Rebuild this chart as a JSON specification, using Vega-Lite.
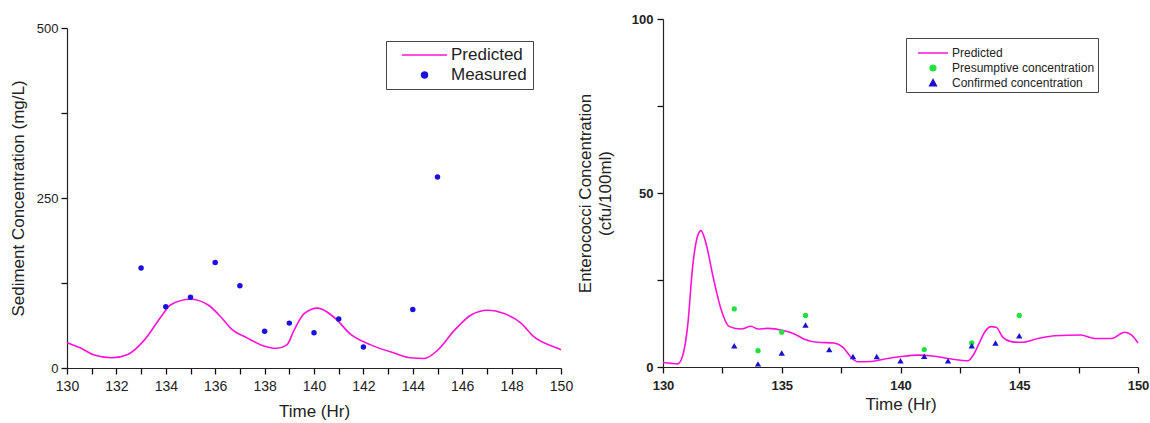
{
  "$schema": "https://vega.github.io/schema/vega-lite/v6.json",
  "background": "white",
  "padding": {"left": 9, "top": 13, "right": 0, "bottom": 5},
  "spacing": 3,
  "config": {
    "font": "Liberation Sans",
    "view": {"stroke": null},
    "axis": {"grid": false, "ticks": true, "domainColor": "#222", "tickColor": "#111", "labelColor": "#222", "titleColor": "#222", "titleFontWeight": "normal", "domainWidth": 1.2, "tickWidth": 1.3, "labelFlush": false, "labelOverlap": false, "tickSize": 6}
  },
  "resolve": {"scale": {"color": "independent"}, "legend": {"color": "independent"}},
  "datasets": {
    "sedPred": [
      {"t": 130.0, "v": 37, "series": "Predicted"}, {"t": 130.16, "v": 35, "series": "Predicted"}, {"t": 130.57, "v": 29, "series": "Predicted"},
      {"t": 131.1, "v": 19, "series": "Predicted"}, {"t": 131.8, "v": 15, "series": "Predicted"}, {"t": 132.46, "v": 20, "series": "Predicted"},
      {"t": 133.13, "v": 41, "series": "Predicted"}, {"t": 133.8, "v": 75, "series": "Predicted"}, {"t": 134.2, "v": 93, "series": "Predicted"},
      {"t": 135.0, "v": 101, "series": "Predicted"}, {"t": 135.7, "v": 93, "series": "Predicted"}, {"t": 136.23, "v": 75, "series": "Predicted"},
      {"t": 136.64, "v": 58, "series": "Predicted"}, {"t": 137.3, "v": 44, "series": "Predicted"}, {"t": 137.85, "v": 34, "series": "Predicted"},
      {"t": 138.5, "v": 29, "series": "Predicted"}, {"t": 138.9, "v": 34, "series": "Predicted"}, {"t": 139.2, "v": 56, "series": "Predicted"},
      {"t": 139.6, "v": 80, "series": "Predicted"}, {"t": 140.15, "v": 88, "series": "Predicted"}, {"t": 140.8, "v": 75, "series": "Predicted"},
      {"t": 141.5, "v": 49, "series": "Predicted"}, {"t": 142.3, "v": 34, "series": "Predicted"}, {"t": 143.25, "v": 22, "series": "Predicted"},
      {"t": 143.9, "v": 15, "series": "Predicted"}, {"t": 144.47, "v": 14, "series": "Predicted"}, {"t": 145.0, "v": 26, "series": "Predicted"},
      {"t": 145.7, "v": 56, "series": "Predicted"}, {"t": 146.36, "v": 78, "series": "Predicted"}, {"t": 147.03, "v": 85, "series": "Predicted"},
      {"t": 147.7, "v": 80, "series": "Predicted"}, {"t": 148.38, "v": 66, "series": "Predicted"}, {"t": 148.9, "v": 46, "series": "Predicted"},
      {"t": 149.87, "v": 29, "series": "Predicted"}, {"t": 150.0, "v": 27, "series": "Predicted"}
    ],
    "sedMeas": [
      {"t": 133, "v": 147, "series": "Measured"}, {"t": 134, "v": 90, "series": "Measured"}, {"t": 135, "v": 104, "series": "Measured"},
      {"t": 136, "v": 155, "series": "Measured"}, {"t": 137, "v": 121, "series": "Measured"}, {"t": 138, "v": 54, "series": "Measured"},
      {"t": 139, "v": 66, "series": "Measured"}, {"t": 140, "v": 52, "series": "Measured"}, {"t": 141, "v": 72, "series": "Measured"},
      {"t": 142, "v": 31, "series": "Measured"}, {"t": 144, "v": 86, "series": "Measured"}, {"t": 145, "v": 281, "series": "Measured"}
    ],
    "entPred": [
      {"t": 130.0, "v": 1.3, "series": "Predicted"}, {"t": 130.34, "v": 1.05, "series": "Predicted"}, {"t": 130.62, "v": 0.9, "series": "Predicted"},
      {"t": 130.83, "v": 3.3, "series": "Predicted"}, {"t": 131.04, "v": 11.9, "series": "Predicted"}, {"t": 131.25, "v": 29, "series": "Predicted"},
      {"t": 131.46, "v": 37.7, "series": "Predicted"}, {"t": 131.6, "v": 39.2, "series": "Predicted"}, {"t": 131.8, "v": 35.8, "series": "Predicted"},
      {"t": 132.1, "v": 26.2, "series": "Predicted"}, {"t": 132.44, "v": 16.7, "series": "Predicted"}, {"t": 132.8, "v": 11.6, "series": "Predicted"},
      {"t": 133.29, "v": 10.9, "series": "Predicted"}, {"t": 133.7, "v": 11.7, "series": "Predicted"}, {"t": 134.0, "v": 10.9, "series": "Predicted"},
      {"t": 134.4, "v": 11.1, "series": "Predicted"}, {"t": 135.1, "v": 10.4, "series": "Predicted"}, {"t": 135.53, "v": 9.5, "series": "Predicted"},
      {"t": 135.95, "v": 8.0, "series": "Predicted"}, {"t": 136.5, "v": 7.1, "series": "Predicted"}, {"t": 137.2, "v": 6.9, "series": "Predicted"},
      {"t": 137.57, "v": 5.7, "series": "Predicted"}, {"t": 137.92, "v": 2.8, "series": "Predicted"}, {"t": 138.2, "v": 1.5, "series": "Predicted"},
      {"t": 138.77, "v": 1.6, "series": "Predicted"}, {"t": 139.33, "v": 2.3, "series": "Predicted"}, {"t": 140.03, "v": 3.0, "series": "Predicted"},
      {"t": 140.73, "v": 3.4, "series": "Predicted"}, {"t": 141.43, "v": 3.1, "series": "Predicted"}, {"t": 142.14, "v": 2.3, "series": "Predicted"},
      {"t": 142.84, "v": 1.8, "series": "Predicted"}, {"t": 143.05, "v": 3.3, "series": "Predicted"}, {"t": 143.33, "v": 7.1, "series": "Predicted"},
      {"t": 143.54, "v": 10, "series": "Predicted"}, {"t": 143.82, "v": 11.6, "series": "Predicted"}, {"t": 144.03, "v": 11.4, "series": "Predicted"},
      {"t": 144.31, "v": 8.5, "series": "Predicted"}, {"t": 144.66, "v": 7.3, "series": "Predicted"}, {"t": 145.09, "v": 7.1, "series": "Predicted"},
      {"t": 145.79, "v": 8.2, "series": "Predicted"}, {"t": 146.49, "v": 9.0, "series": "Predicted"}, {"t": 147.6, "v": 9.2, "series": "Predicted"},
      {"t": 148.17, "v": 8.2, "series": "Predicted"}, {"t": 148.88, "v": 8.2, "series": "Predicted"}, {"t": 149.44, "v": 10, "series": "Predicted"},
      {"t": 149.72, "v": 9.2, "series": "Predicted"}, {"t": 150.0, "v": 6.9, "series": "Predicted"}
    ],
    "entPres": [
      {"t": 133, "v": 16.7, "series": "Presumptive concentration"}, {"t": 134, "v": 4.7, "series": "Presumptive concentration"},
      {"t": 135, "v": 10.0, "series": "Presumptive concentration"}, {"t": 136, "v": 14.8, "series": "Presumptive concentration"},
      {"t": 141, "v": 5.0, "series": "Presumptive concentration"}, {"t": 143, "v": 6.9, "series": "Presumptive concentration"},
      {"t": 145, "v": 14.8, "series": "Presumptive concentration"}
    ],
    "entConf": [
      {"t": 133, "v": 6.1, "series": "Confirmed concentration"}, {"t": 134, "v": 0.9, "series": "Confirmed concentration"},
      {"t": 135, "v": 4.0, "series": "Confirmed concentration"}, {"t": 136, "v": 12.1, "series": "Confirmed concentration"},
      {"t": 137, "v": 5.0, "series": "Confirmed concentration"}, {"t": 138, "v": 3.0, "series": "Confirmed concentration"},
      {"t": 139, "v": 3.0, "series": "Confirmed concentration"}, {"t": 140, "v": 1.8, "series": "Confirmed concentration"},
      {"t": 141, "v": 3.1, "series": "Confirmed concentration"}, {"t": 142, "v": 1.8, "series": "Confirmed concentration"},
      {"t": 143, "v": 6.1, "series": "Confirmed concentration"}, {"t": 144, "v": 6.9, "series": "Confirmed concentration"},
      {"t": 145, "v": 9.0, "series": "Confirmed concentration"}
    ]
  },
  "hconcat": [
    {
      "spacing": 2,
      "vconcat": [
        {"width": 1, "height": 1, "data": {"values": []}, "mark": "point", "encoding": {}},
        {
          "width": 494,
          "height": 340,
          "encoding": {
            "x": {"field": "t", "type": "quantitative", "scale": {"domain": [130, 150], "nice": false, "zero": false},
              "axis": {"title": "Time (Hr)", "titleFontSize": 17, "titlePadding": 10, "labelFontSize": 14, "labelPadding": 5,
                "values": [130,131,132,133,134,135,136,137,138,139,140,141,142,143,144,145,146,147,148,149,150],
                "labelExpr": "datum.value % 2 == 0 ? datum.label : ''"}},
            "y": {"field": "v", "type": "quantitative", "scale": {"domain": [0, 500], "nice": false},
              "axis": {"title": "Sediment Concentration (mg/L)", "titleFontSize": 17, "titlePadding": 9, "labelFontSize": 13, "labelPadding": 3,
                "values": [0, 125, 250, 375, 500],
                "labelExpr": "datum.value % 250 == 0 ? datum.label : ''"}},
            "color": {"field": "series", "type": "nominal",
              "scale": {"domain": ["Predicted", "Measured"], "range": ["#ff10d8", "#1a10e0"]},
              "legend": {"orient": "none", "legendX": 319, "legendY": 22, "title": null, "labelFontSize": 17, "labelColor": "#222", "labelLimit": 300,
                "labelExpr": "datum.label + '\u2002\u2002'",
                "strokeColor": "#444", "fillColor": "white", "padding": 6, "symbolOffset": 9, "labelOffset": 3, "rowPadding": 3, "clipHeight": 16,
                "symbolSize": 2025, "symbolStrokeWidth": 1.5,
                "encode": {"symbols": {"update": {
                  "shape": {"signal": "datum.value === 'Predicted' ? 'stroke' : 'M0.133,0A0.133,0.133,0,1,1,-0.133,0A0.133,0.133,0,1,1,0.133,0Z'"},
                  "size": {"value": 2025},
                  "fill": {"signal": "datum.value === 'Predicted' ? 'transparent' : '#1a10e0'"},
                  "stroke": {"signal": "datum.value === 'Predicted' ? '#ff10d8' : 'transparent'"},
                  "strokeWidth": {"value": 1.5},
                  "opacity": {"value": 1}
                }}}}}
          },
          "layer": [
            {"data": {"name": "sedPred"}, "mark": {"type": "line", "interpolate": "monotone", "strokeWidth": 1.6}},
            {"data": {"name": "sedMeas"}, "mark": {"type": "point", "filled": true, "size": 30, "opacity": 1}}
          ]
        }
      ]
    },
    {
      "width": 475,
      "height": 348,
      "encoding": {
        "x": {"field": "t", "type": "quantitative", "scale": {"domain": [130, 150], "nice": false, "zero": false},
          "axis": {"title": "Time (Hr)", "titleFontSize": 17, "titlePadding": 4, "labelFontSize": 13, "labelFontWeight": "bold", "labelPadding": 6,
            "values": [130, 132.5, 135, 137.5, 140, 142.5, 145, 147.5, 150],
            "labelExpr": "datum.value % 5 == 0 ? datum.label : ''"}},
        "y": {"field": "v", "type": "quantitative", "scale": {"domain": [0, 100], "nice": false},
          "axis": {"title": ["Enterococci Concentration", "(cfu/100ml)"], "titleFontSize": 17, "titleLineHeight": 20, "titlePadding": 17,
            "labelFontSize": 13, "labelFontWeight": "bold", "labelPadding": 4,
            "values": [0, 25, 50, 75, 100],
            "labelExpr": "datum.value % 50 == 0 ? datum.label : ''"}},
        "color": {"field": "series", "type": "nominal",
          "scale": {"domain": ["Predicted", "Presumptive concentration", "Confirmed concentration"], "range": ["#ff10d8", "#22e040", "#1a10d0"]},
          "legend": {"orient": "none", "legendX": 243, "legendY": 19, "title": " ", "titleFontSize": 5, "titlePadding": 1,
            "labelFontSize": 12, "labelColor": "#222", "labelLimit": 300, "labelExpr": "datum.label + '\u2002\u2002'",
            "strokeColor": "#444", "fillColor": "white", "padding": 3, "symbolOffset": 8, "labelOffset": 3, "rowPadding": 3, "clipHeight": 12,
            "symbolSize": 900, "symbolStrokeWidth": 1.5,
            "encode": {"symbols": {"update": {
              "shape": {"signal": "datum.value === 'Predicted' ? 'stroke' : datum.value === 'Confirmed concentration' ? 'M0,-0.22L0.22,0.18L-0.22,0.18Z' : 'M0.19,0A0.19,0.19,0,1,1,-0.19,0A0.19,0.19,0,1,1,0.19,0Z'"},
              "size": {"value": 900},
              "fill": {"signal": "datum.value === 'Predicted' ? 'transparent' : datum.value === 'Confirmed concentration' ? '#1a10d0' : '#22e040'"},
              "stroke": {"signal": "datum.value === 'Predicted' ? '#ff10d8' : 'transparent'"},
              "strokeWidth": {"value": 1.5},
              "opacity": {"value": 1}
            }}}}}
      },
      "layer": [
        {"data": {"name": "entPred"}, "mark": {"type": "line", "interpolate": "monotone", "strokeWidth": 1.6}},
        {"data": {"name": "entPres"}, "mark": {"type": "point", "filled": true, "shape": "circle", "size": 28, "opacity": 1}},
        {"data": {"name": "entConf"}, "mark": {"type": "point", "filled": true, "shape": "triangle-up", "size": 40, "opacity": 1}}
      ]
    }
  ]
}
